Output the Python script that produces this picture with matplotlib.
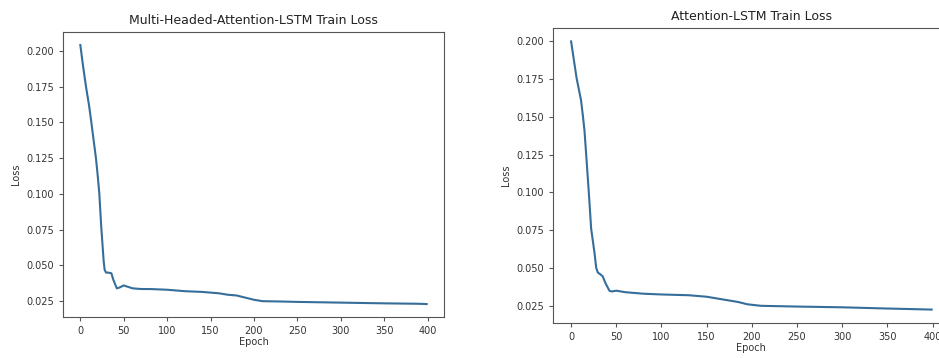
import matplotlib
matplotlib.use('Agg')
import matplotlib.pyplot as plt

# Multi-Headed-Attention-LSTM train loss
mh_epochs = [0, 3, 6.5, 10, 12.7, 15, 18, 20, 21.9, 24.2, 26.9, 28, 29.6, 32, 35.8, 38, 42, 45, 50, 55,
             60, 70, 80, 100, 120, 140, 150, 160, 170, 180, 190, 200, 210, 230, 250, 300, 350, 390, 399]
mh_loss = [0.204, 0.190, 0.175, 0.162, 0.150, 0.139, 0.125, 0.113, 0.100, 0.076, 0.053, 0.047, 0.045, 0.045,
           0.0445, 0.040, 0.034, 0.0345, 0.036, 0.035, 0.034, 0.0335, 0.0335, 0.033, 0.032, 0.0315,
           0.031, 0.0305, 0.0295, 0.029, 0.0275, 0.026, 0.025, 0.0248, 0.0245, 0.024, 0.0235, 0.0232, 0.023]

# Attention-LSTM train loss
att_epochs = [0, 6, 11, 13, 14.8, 16.7, 19.6, 22.2, 25.9, 27.8, 29.6, 32, 35, 38, 42.5, 45, 50, 55,
              60, 80, 100, 130, 150, 170, 185, 195, 210, 250, 300, 350, 399]
att_loss = [0.200, 0.176, 0.161, 0.151, 0.141, 0.125, 0.100, 0.076, 0.060, 0.050, 0.047, 0.046, 0.0445,
            0.040, 0.0349, 0.0345, 0.035, 0.0345, 0.034, 0.033, 0.0325, 0.032, 0.031, 0.029, 0.0275,
            0.026, 0.025, 0.0245, 0.024, 0.0232, 0.0225]

line_color = '#356e9a'

fig = plt.figure(figsize=(9.39, 3.58), dpi=100)

ax1 = fig.add_axes([0.0671, 0.1145, 0.4057, 0.796])
ax1.plot(mh_epochs, mh_loss, color=line_color, linewidth=1.5)
ax1.set_title('Multi-Headed-Attention-LSTM Train Loss', fontsize=9, color='#222222')
ax1.set_xlabel('Epoch', fontsize=7, labelpad=1, color='#333333')
ax1.set_ylabel('Loss', fontsize=7, color='#333333')

ax2 = fig.add_axes([0.589, 0.0978, 0.4224, 0.824])
ax2.plot(att_epochs, att_loss, color=line_color, linewidth=1.5)
ax2.set_title('Attention-LSTM Train Loss', fontsize=9, color='#222222')
ax2.set_xlabel('Epoch', fontsize=7, labelpad=1, color='#333333')
ax2.set_ylabel('Loss', fontsize=7, color='#333333')

for ax in (ax1, ax2):
    ax.set_xticks([0, 50, 100, 150, 200, 250, 300, 350, 400])
    ax.set_yticks([0.025, 0.050, 0.075, 0.100, 0.125, 0.150, 0.175, 0.200])
    ax.tick_params(labelsize=7, length=3, color='#555555', labelcolor='#333333')
    for s in ax.spines.values():
        s.set_color('#555555')

plt.savefig('out.png', dpi=100)
